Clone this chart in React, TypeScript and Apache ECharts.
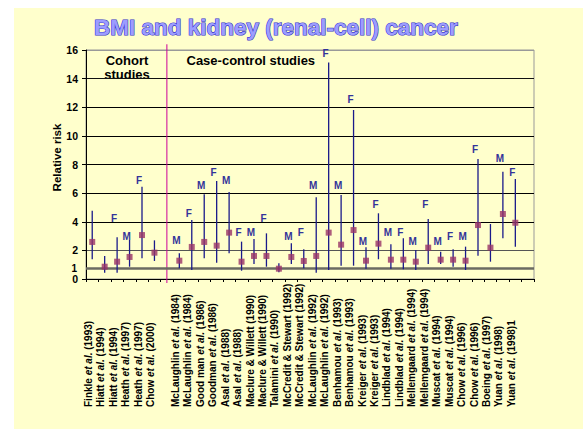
import React, { useEffect, useRef } from "react";
import * as echarts from "echarts";

const categories: string[] = [
  "Finkle et al. (1993)",
  "Hiatt et al. (1994)",
  "Hiatt et al. (1994)",
  "Heath et al. (1997)",
  "Heath et al. (1997)",
  "Chow et al. (2000)",
  "",
  "McLaughlin et al. (1984)",
  "McLaughlin et al. (1984)",
  "Good man et al. (1986)",
  "Goodman et al. (1986)",
  "Asal et al. (1988)",
  "Asal et al. (1988)",
  "Maclure & Willett (1990)",
  "Maclure & Willett (1990)",
  "Talamini et al. (1990)",
  "McCredit & Stewart (1992)",
  "McCredit & Stewart (1992)",
  "McLaughlin et al. (1992)",
  "McLaughlin et al. (1992)",
  "Benhamou et al. (1993)",
  "Benhamou et al. (1993)",
  "Kreiger et al. (1993)",
  "Kreiger et al. (1993)",
  "Lindblad et al. (1994)",
  "Lindblad et al. (1994)",
  "Mellemgaard et al. (1994)",
  "Mellemgaard et al. (1994)",
  "Muscat et al. (1994)",
  "Muscat et al. (1994)",
  "Chow et al. (1996)",
  "Chow et al. (1996)",
  "Boeing et al. (1997)",
  "Yuan et al. (1998)",
  "Yuan et al. (1998)1",
  "",
];

// relative risk (point estimate)
const rr: (number | null)[] = [
  2.59, 0.86, 1.21, 1.54, 3.07, 1.84, null,
  1.28, 2.24, 2.59, 2.33, 3.24, 1.21, 1.61, 1.61, 0.72, 1.54, 1.26, 1.61, 3.24,
  2.4, 3.42, 1.28, 2.47, 1.35, 1.35, 1.21, 2.19, 1.35, 1.35, 1.28, 3.77, 2.19,
  4.54, 3.93, null,
];
// upper confidence limit
const ciHigh: (number | null)[] = [
  4.77, 1.61, 2.91, 2.73, 6.45, 2.7, null,
  1.8, 4.12, 5.92, 6.85, 6.08, 2.61, 2.8, 3.19, 1.1, 2.49, 2.08, 5.71, 15.12,
  5.87, 11.81, 2.22, 4.59, 2.42, 2.84, 2.03, 4.19, 1.91, 2.08, 2.26, 8.39, 3.84,
  7.5, 6.99, null,
];
// lower confidence limit
const ciLow: (number | null)[] = [
  1.38, 0.44, 0.44, 0.86, 1.45, 1.26, null,
  0.75, 0.63, 1.45, 1.14, 1.8, 0.58, 1.05, 0.86, 0.47, 1.05, 0.75, 0.44, 0.63,
  0.93, 0.93, 0.72, 1.38, 0.72, 0.68, 0.63, 1.05, 1.05, 0.86, 0.63, 1.63, 1.21,
  2.84, 2.26, null,
];
// sex of the study group
const sex: string[] = [
  "", "", "F", "M", "F", "", "",
  "M", "F", "M", "F", "M", "F", "M", "F", "", "M", "F", "M", "F",
  "M", "F", "M", "F", "M", "F", "M", "F", "M", "F", "M", "F", "",
  "M", "F", "",
];
// level (relative-risk scale) at which each sex letter is written
const sexLabelLevel: (number | null)[] = [
  null, null, 4.24, 3.0, 6.85, null, null,
  2.66, 4.59, 6.52, 7.46, 6.85, 3.24, 3.26, 4.24, null, 2.96, 3.26, 6.5, 15.77,
  6.5, 12.56, 2.63, 5.24, 3.26, 3.26, 2.63, 5.24, 2.63, 3.0, 2.96, 9.08, null,
  8.43, 7.46, null,
];
const yTicks = { min: 0, max: 16, interval: 2 };
const referenceLevel = 0.72; // drawn "1" reference line as it appears
const dividerPosition = 5.75; // between cohort and case-control groups

const FONT = "'Liberation Sans', Arial, sans-serif";

export default function App() {
  const ref = useRef<HTMLDivElement>(null);

  useEffect(() => {
    if (!ref.current) return;
    const chart = echarts.init(ref.current, null, { renderer: "svg" });

    const barData: number[][] = [];
    const pointData: number[][] = [];
    const letterData: number[][] = [];
    const letterText: string[] = [];
    categories.forEach((_, i) => {
      if (rr[i] != null) pointData.push([i, rr[i] as number]);
      if (ciLow[i] != null && ciHigh[i] != null)
        barData.push([i, ciLow[i] as number, ciHigh[i] as number]);
      if (sex[i] && sexLabelLevel[i] != null) {
        letterData.push([i, sexLabelLevel[i] as number]);
        letterText.push(sex[i]);
      }
    });

    const option: any = {
      animation: false,
      backgroundColor: "#FFFFCC",
      title: {
        text: "BMI and kidney (renal-cell) cancer",
        left: 75,
        top: 3,
        textStyle: {
          fontFamily: FONT,
          fontSize: 22.5,
          fontWeight: "bold",
          color: "#9c9cff",
          textBorderColor: "#3636c8",
          textBorderWidth: 1.2,
          textShadowColor: "rgba(130,130,180,0.5)",
          textShadowOffsetX: 2,
          textShadowOffsetY: 2,
          textShadowBlur: 0,
        },
      },
      grid: {
        left: 72,
        top: 42,
        right: 49,
        bottom: 150,
        show: true,
        borderColor: "#999999",
        borderWidth: 1,
        backgroundColor: "transparent",
      },
      xAxis: {
        type: "category",
        data: categories,
        boundaryGap: true,
        axisLine: { lineStyle: { color: "#000", width: 1 } },
        axisTick: { show: true, interval: 0, length: 3, lineStyle: { color: "#000" } },
        splitLine: { show: false },
        axisLabel: {
          interval: 0,
          rotate: 90,
          align: "left",
          verticalAlign: "bottom",
          margin: 128,
          color: "#000",
          formatter: (v: string) => {
            if (!v) return "";
            const parts = v.split("et al.");
            if (parts.length === 1) return `{n|${v}}`;
            return `{n|${parts[0]}}{i|et al.}{n|${parts[1]}}`;
          },
          rich: {
            n: { fontFamily: FONT, fontSize: 10, fontWeight: "bold", color: "#000", lineHeight: 8 },
            i: { fontFamily: FONT, fontSize: 10, fontWeight: "bold", fontStyle: "italic", color: "#000", lineHeight: 8 },
          },
        },
      },
      yAxis: {
        type: "value",
        min: yTicks.min,
        max: yTicks.max,
        interval: yTicks.interval,
        name: "Relative risk",
        nameLocation: "middle",
        nameRotate: 90,
        nameGap: 23,
        nameMoveOverlap: false,
        nameTextStyle: {
          fontFamily: FONT,
          fontSize: 11.5,
          fontWeight: "bold",
          color: "#000",
          padding: [0, 0, 0, 14],
        },
        axisLine: { show: true, lineStyle: { color: "#000", width: 1 } },
        axisTick: { show: true, length: 4, lineStyle: { color: "#000" } },
        axisLabel: {
          margin: 8,
          fontFamily: FONT,
          fontSize: 10.5,
          fontWeight: "bold",
          color: "#000",
        },
        splitLine: {
          show: true,
          lineStyle: {
            width: 1.2,
            color: ["#000", "#555", "#000", "#000", "#000", "#000", "#000", "#111", "#999"],
          },
        },
      },
      graphic: [
        {
          type: "text",
          x: 113,
          y: 59.5,
          style: {
            text: "Cohort\nstudies",
            fontFamily: FONT,
            fontSize: 13,
            fontWeight: "bold",
            lineHeight: 14,
            fill: "#000",
            align: "center",
            verticalAlign: "middle",
          },
        },
        {
          type: "text",
          x: 236.8,
          y: 52.7,
          style: {
            text: "Case-control studies",
            fontFamily: FONT,
            fontSize: 13,
            fontWeight: "bold",
            fill: "#000",
            align: "center",
            verticalAlign: "middle",
          },
        },
      ],
      series: [
        {
          type: "custom",
          name: "divider",
          clip: false,
          silent: true,
          z: 1,
          data: [[dividerPosition, 16.4, -0.28]],
          encode: { x: 0, y: [1, 2] },
          renderItem: (params: any, api: any) => {
            const p1 = api.coord([api.value(0), api.value(1)]);
            const p2 = api.coord([api.value(0), api.value(2)]);
            return {
              type: "line",
              shape: { x1: p1[0], y1: p1[1], x2: p2[0], y2: p2[1] },
              style: { stroke: "#CC0099", lineWidth: 1 },
            };
          },
        },
        {
          type: "custom",
          name: "95% CI",
          silent: true,
          z: 3,
          data: barData,
          encode: { x: 0, y: [1, 2] },
          renderItem: (params: any, api: any) => {
            const p1 = api.coord([api.value(0), api.value(1)]);
            const p2 = api.coord([api.value(0), api.value(2)]);
            return {
              type: "line",
              shape: { x1: p1[0], y1: p1[1], x2: p2[0], y2: p2[1] },
              style: { stroke: "#1a1a8a", lineWidth: 1.3 },
            };
          },
        },
        {
          type: "scatter",
          name: "Relative risk",
          symbol: "rect",
          symbolSize: 6,
          z: 4,
          itemStyle: { color: "#993366" },
          data: pointData,
          markLine: {
            silent: true,
            symbol: "none",
            z: 2,
            lineStyle: { color: "#6b6b62", width: 2.5, type: "solid" },
            label: {
              show: true,
              position: "start",
              distance: 9,
              formatter: "1",
              fontFamily: FONT,
              fontSize: 10,
              fontWeight: "bold",
              color: "#000",
            },
            data: [{ yAxis: referenceLevel }],
          },
        },
        {
          type: "custom",
          name: "sex",
          silent: true,
          clip: false,
          z: 5,
          data: letterData,
          encode: { x: 0, y: 1 },
          renderItem: (params: any, api: any) => {
            const p = api.coord([api.value(0), api.value(1)]);
            return {
              type: "text",
              x: p[0] - 3,
              y: p[1],
              style: {
                text: letterText[params.dataIndex],
                fontFamily: FONT,
                fontSize: 10,
                fontWeight: "bold",
                fill: "#333399",
                align: "center",
                verticalAlign: "middle",
              },
            };
          },
        },
      ],
    };

    chart.setOption(option);
    return () => chart.dispose();
  }, []);

  return (
    <div
      ref={ref}
      style={{
        position: "fixed",
        left: 14,
        top: 8,
        width: 569,
        height: 421,
        background: "#FFFFCC",
      }}
    />
  );
}
